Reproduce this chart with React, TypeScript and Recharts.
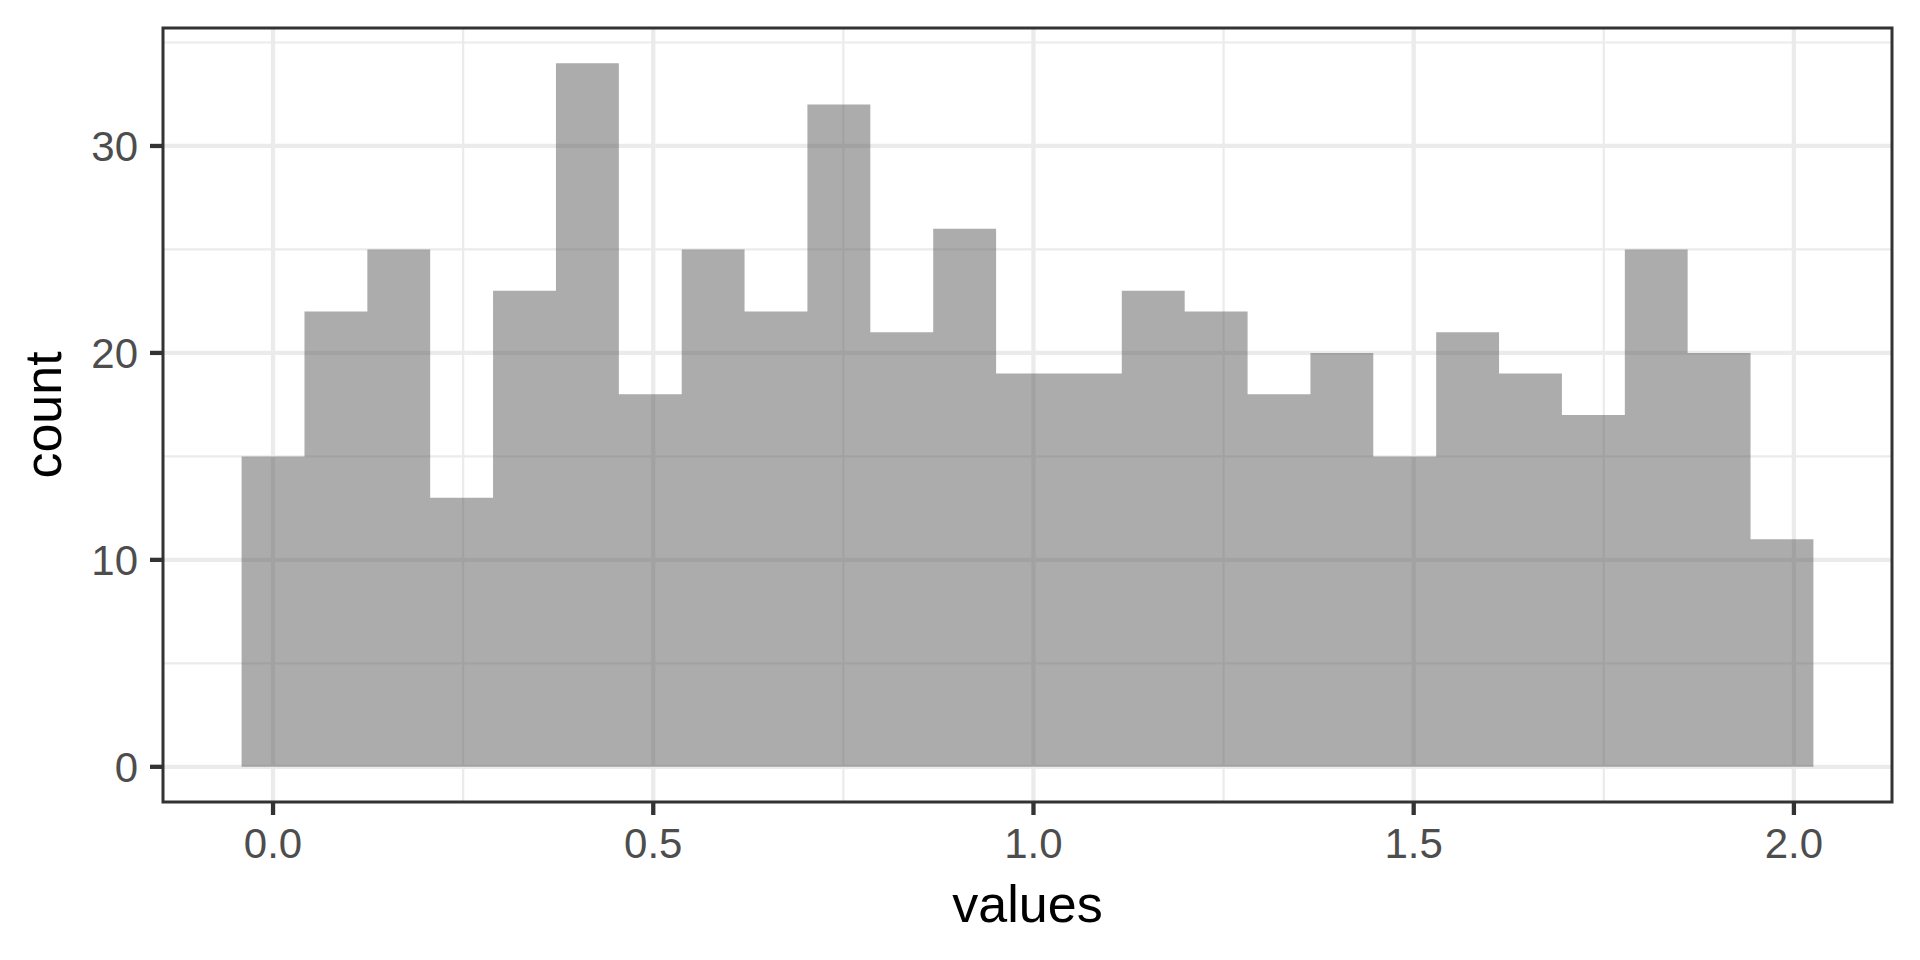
import {
  Area,
  AreaChart,
  CartesianGrid,
  ReferenceArea,
  XAxis,
  YAxis,
} from "recharts"

const FONT = '"Liberation Sans", Arial, Helvetica, sans-serif'

// bin centres of the histogram
const BIN_CENTERS = [
  0, 0.0827, 0.1654, 0.248, 0.3307, 0.4134, 0.4961, 0.5788, 0.6614, 0.7441,
  0.8268, 0.9095, 0.9922, 1.0748, 1.1575, 1.2402, 1.3229, 1.4056, 1.4882,
  1.5709, 1.6536, 1.7363, 1.819, 1.9016, 1.9843,
]
const BIN_WIDTH = 0.0827
const COUNTS = [
  15, 22, 25, 13, 23, 34, 18, 25, 22, 32, 21, 26, 19, 19, 23, 22, 18, 20, 15,
  21, 19, 17, 25, 20, 11,
]

const X_TICKS = [0, 0.5, 1, 1.5, 2]
const X_MINOR = [0.25, 0.75, 1.25, 1.75]
const Y_TICKS = [0, 10, 20, 30]
const Y_MINOR = [5, 15, 25, 35]
const X_DOMAIN: [number, number] = [-0.1447, 2.129]
const Y_DOMAIN: [number, number] = [-1.7, 35.7]

// step table: left edge of every bin, plus the right edge of the last one
const steps = BIN_CENTERS.map((c, i) => ({ x: c - BIN_WIDTH / 2, count: COUNTS[i] }))
steps.push({
  x: BIN_CENTERS[BIN_CENTERS.length - 1] + BIN_WIDTH / 2,
  count: COUNTS[COUNTS.length - 1],
})

const tickStyle = { fill: "#4d4d4d", fontSize: 42, fontFamily: FONT }
const tickLineStyle = { stroke: "#333333", strokeWidth: 4.3 }

export default function App() {
  return (
    <div
      style={{
        position: "absolute",
        left: 0,
        top: 0,
        width: 1920,
        height: 960,
        background: "#ffffff",
        fontFamily: FONT,
      }}
    >
      <AreaChart
        width={1920}
        height={960}
        data={steps}
        margin={{ top: 28, right: 28, bottom: 0, left: 0 }}
      >
        <CartesianGrid
          stroke="#ebebeb"
          strokeWidth={2.2}
          horizontalValues={Y_MINOR}
          verticalValues={X_MINOR}
        />
        <CartesianGrid
          stroke="#ebebeb"
          strokeWidth={4.3}
          horizontalValues={Y_TICKS}
          verticalValues={X_TICKS}
        />
        <XAxis
          dataKey="x"
          type="number"
          domain={X_DOMAIN}
          allowDataOverflow
          ticks={X_TICKS}
          interval={0}
          tickFormatter={(v: number) => v.toFixed(1)}
          height={158}
          axisLine={false}
          tickLine={tickLineStyle}
          tickSize={13}
          tickMargin={13}
          tick={tickStyle}
          label={{
            value: "values",
            position: "insideBottom",
            offset: 38,
            fill: "#000000",
            fontSize: 52,
            fontFamily: FONT,
          }}
        />
        <YAxis
          type="number"
          domain={Y_DOMAIN}
          allowDataOverflow
          ticks={Y_TICKS}
          interval={0}
          width={163}
          axisLine={false}
          tickLine={tickLineStyle}
          tickSize={13}
          tickMargin={12}
          tick={tickStyle}
          label={{
            value: "count",
            angle: -90,
            position: "insideLeft",
            offset: 43,
            fill: "#000000",
            fontSize: 52,
            fontFamily: FONT,
            style: { textAnchor: "middle" },
          }}
        />
        <Area
          type="stepAfter"
          dataKey="count"
          stroke="none"
          fill="#595959"
          fillOpacity={0.5}
          dot={false}
          activeDot={false}
          isAnimationActive={false}
        />
        <ReferenceArea
          x1={X_DOMAIN[0]}
          x2={X_DOMAIN[1]}
          y1={Y_DOMAIN[0]}
          y2={Y_DOMAIN[1]}
          fill="none"
          stroke="#333333"
          strokeWidth={3}
          ifOverflow="visible"
        />
      </AreaChart>
    </div>
  )
}
